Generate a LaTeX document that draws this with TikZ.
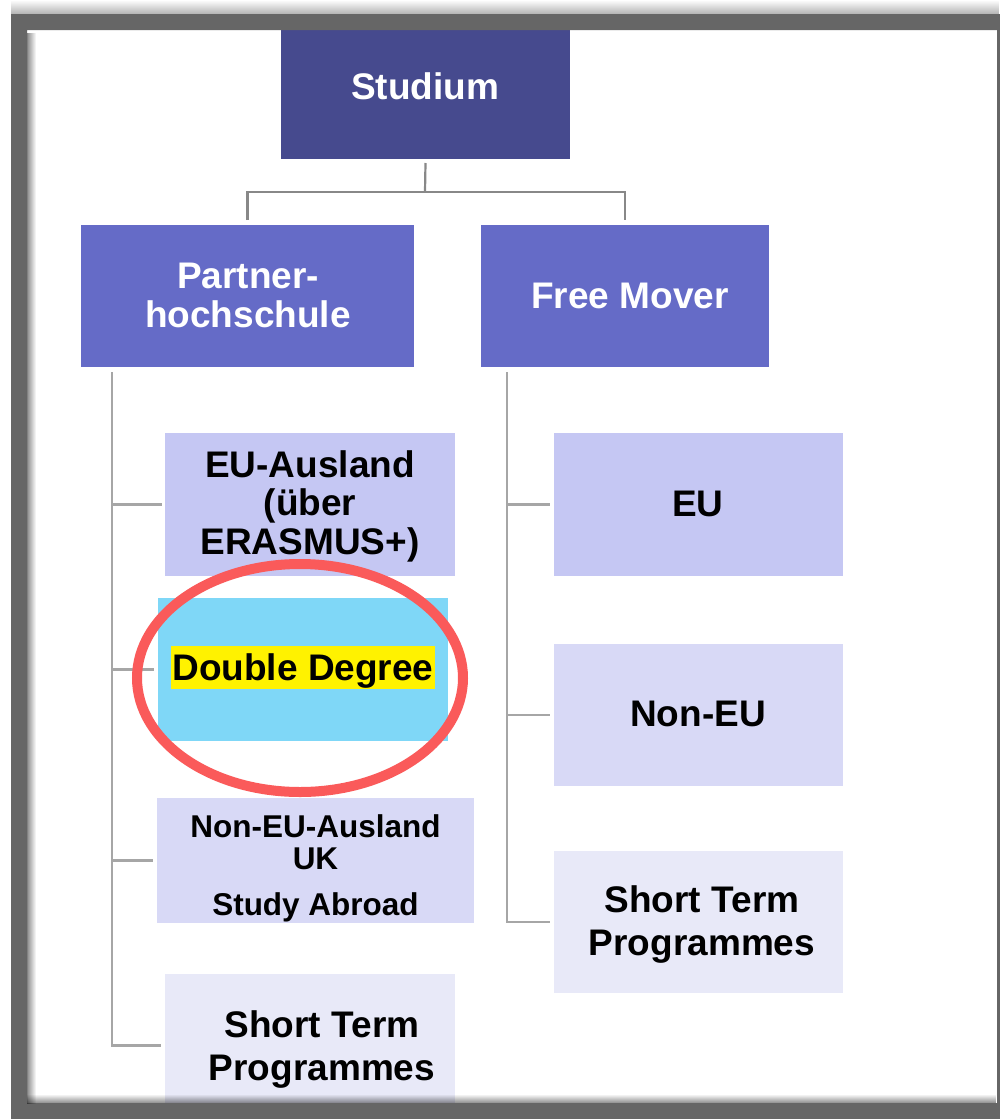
\documentclass[tikz,border=0pt]{standalone}
\usepackage{fontspec}
\setmainfont{Liberation Sans}
\usetikzlibrary{calc,fadings}
\definecolor{cStud}{HTML}{464A8E}
\definecolor{cLvl}{HTML}{656BC7}
\definecolor{cA}{HTML}{C5C7F3}
\definecolor{cB}{HTML}{D8D9F6}
\definecolor{cC}{HTML}{E8E9F8}
\definecolor{cDD}{HTML}{7FD7F7}
\definecolor{cRed}{HTML}{FA5A5A}
\definecolor{cFrame}{HTML}{666666}
\definecolor{cLine}{HTML}{888888}
\definecolor{cLineB}{HTML}{A6A6A6}
\tikzfading[name=fadeBottom, top color=transparent!100, bottom color=transparent!55]
\tikzfading[name=fadeLeft, left color=transparent!55, right color=transparent!100]
\tikzfading[name=fadeTop, top color=transparent!100, bottom color=transparent!70]
\begin{document}
\begin{tikzpicture}[x=1pt,y=-1pt,
  box/.style 2 args={rectangle, inner sep=0pt, outer sep=0pt, draw=none,
    minimum width=#1, minimum height=#2},
  txt/.style={font=\bfseries\fontsize{37}{39}\selectfont, align=center,
    inner sep=0pt, anchor=base},
  conA/.style={draw=cLine, line width=2.2pt},
  conB/.style={draw=cLineB, line width=2.4pt}]
\useasboundingbox (0,0) rectangle (1000,1119);
% page background
\fill[white] (0,0) rectangle (1000,1119);
% boxes
\node[box={289pt}{145pt}, fill=cStud] (stud) at (425.5,86.5) {};
\node[box={333pt}{142pt}, fill=cLvl] (part) at (247.5,296) {};
\node[box={288pt}{142pt}, fill=cLvl] (free) at (625,296) {};
\node[box={290pt}{143pt}, fill=cA] (eua) at (310,504.5) {};
\node[box={290pt}{143pt}, fill=cDD] (dd) at (303,669.5) {};
\node[box={317pt}{125pt}, fill=cB] (neua) at (315.5,860.5) {};
\node[box={290pt}{143pt}, fill=cC] (stl) at (310,1045.5) {};
\node[box={289pt}{143pt}, fill=cA] (eu) at (698.5,504.5) {};
\node[box={289pt}{142pt}, fill=cB] (neu) at (698.5,715) {};
\node[box={289pt}{142pt}, fill=cC] (str) at (698.5,922) {};
% texts (base anchor = baseline of the last line)
\node[txt, text=white] (tstud) at (425,99) {Studium};
\node[txt, text=white] (tpart) at (248,327) {Partner-\\hochschule};
\node[txt, text=white] (tfree) at (630,308) {Free Mover};
\node[txt, font=\bfseries\fontsize{37}{38.5}\selectfont] (teua) at (310,554) {EU-Ausland\\(über\\ERASMUS+)};
\node[txt, fill=yellow, text height=34pt, text depth=9pt, inner xsep=1pt] (tdd) at (303,680) {Double Degree};
\node[txt, font=\bfseries\fontsize{31.5}{32}\selectfont] (tneua) at (315.5,915) {Non-EU-Ausland\\UK\\[14pt]Study Abroad};
\node[txt, font=\bfseries\fontsize{37}{43}\selectfont] (tstl) at (322,1080) {Short Term\\Programmes};
\node[txt] (teu) at (698,516) {EU};
\node[txt] (tneu) at (698,726) {Non-EU};
\node[txt, font=\bfseries\fontsize{37}{43}\selectfont] (tstr) at (702,955) {Short Term\\Programmes};
% connectors, top level
\coordinate (bus) at (425,192);
\draw[conA] ($(stud.south)+(0,4)$) -- (bus);
\draw[conA] ($(part.north)+(0,-5)$) |- (bus) -| ($(free.north)+(0,-5)$);
% left trunk
\coordinate (lt) at ($(part.south west)+(31,5)$);
\draw[conB] (lt) |- ($(eua.west)+(-3,0)$);
\draw[conB] (lt) |- ($(dd.west)+(-4,0)$);
\draw[conB] (lt) |- ($(neua.west)+(-4,0)$);
\draw[conB] (lt) |- ($(stl.west)+(-4,0)$);
% right trunk
\coordinate (rt) at ($(free.south west)+(26,5)$);
\draw[conB] (rt) |- ($(eu.west)+(-4,0)$);
\draw[conB] (rt) |- ($(neu.west)+(-4,0)$);
\draw[conB] (rt) |- ($(str.west)+(-4,0)$);
% red ellipse
\draw[cRed, line width=10pt] (300,678) ellipse [x radius=163, y radius=114];
% frame
\fill[cFrame, even odd rule] (11,14) rectangle (1000,1119) (27,30) rectangle (997,1103);
% shadows
\fill[black, path fading=fadeTop] (11,0) rectangle (1000,14);
\fill[black, path fading=fadeLeft] (27,30) rectangle (36,1103);
\fill[black, path fading=fadeBottom] (27,1094) rectangle (997,1103);
\end{tikzpicture}
\end{document}
